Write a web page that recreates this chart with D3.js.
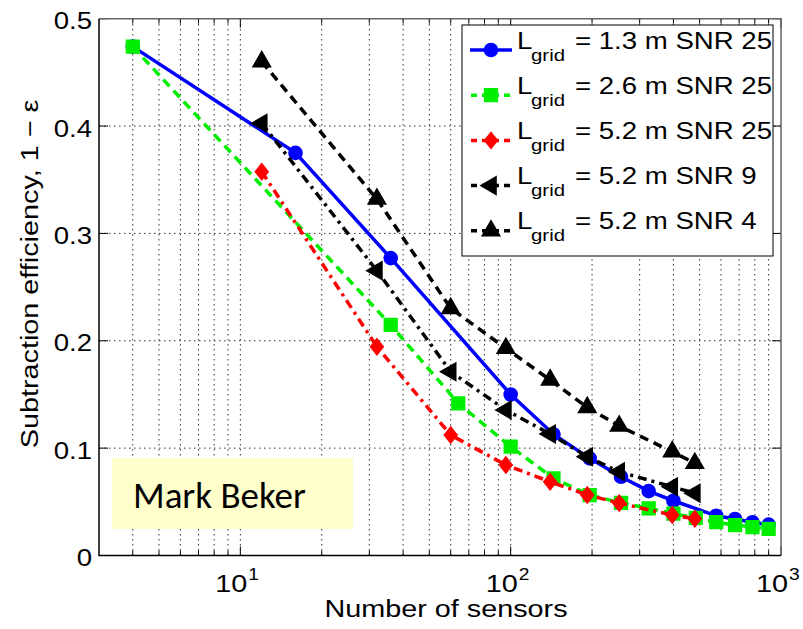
<!DOCTYPE html>
<html>
<head>
<meta charset="utf-8">
<script src="https://cdn.jsdelivr.net/npm/d3@7"></script>
<style>
  body { margin: 0; background: #fff; }
  svg { display: block; }
</style>
</head>
<body>
<script>
// data
var sensors13 = [4, 16, 36, 100, 144, 196, 256, 324, 400, 576, 676, 784, 900];
var eff13 = [0.474, 0.375, 0.277, 0.150, 0.113, 0.0905, 0.0733, 0.060, 0.051, 0.037, 0.034, 0.031, 0.0288];

var sensors26 = [4, 36, 64, 100, 144, 196, 256, 324, 400, 484, 576, 676, 784, 900];
var eff26 = [0.474, 0.2147, 0.1418, 0.1013, 0.0719, 0.0563, 0.049, 0.044, 0.039, 0.035, 0.031, 0.0284, 0.0265, 0.0247];

var sensors52 = [12, 32, 60, 96, 140, 192, 252, 396, 480];
var eff52snr25 = [0.3575, 0.1945, 0.1122, 0.0843, 0.0687, 0.0564, 0.0488, 0.0377, 0.0342];
var eff52snr9 = [0.4026, 0.2653, 0.1712, 0.1355, 0.1132, 0.092, 0.078, 0.064, 0.058];
var eff52snr4 = [0.46, 0.332, 0.2302, 0.193, 0.1635, 0.138, 0.1206, 0.0967, 0.0859];

var legendLabels = ["= 1.3 m SNR 25", "= 2.6 m SNR 25", "= 5.2 m SNR 25", "= 5.2 m SNR 9", "= 5.2 m SNR 4"];
var yTicks = [0, 0.1, 0.2, 0.3, 0.4, 0.5];
var xMajor = [10, 100, 1000];
var xMinor = [4, 5, 6, 7, 8, 9, 20, 30, 40, 50, 60, 70, 80, 90, 200, 300, 400, 500, 600, 700, 800, 900];

var width = 803, height = 629;
var stretch = 1.2;

var svg = d3.select("body").append("svg")
    .attr("width", width)
    .attr("height", height);

var x = d3.scaleLog().domain([3, 1000]).range([99, 781]);
var y = d3.scaleLinear().domain([0, 0.5]).range([555.5, 18.7]);

var x0 = x.range()[0], x1 = x.range()[1];
var y0 = y.range()[0], y1 = y.range()[1];

// grid
var grid = svg.append("g").attr("stroke", "#333").attr("stroke-width", 1)
    .attr("stroke-dasharray", "1.5,3.5");
grid.selectAll(".vg").data(xMinor.concat([10, 100])).enter().append("line")
    .attr("x1", d => x(d)).attr("x2", d => x(d))
    .attr("y1", y0).attr("y2", y1);
grid.selectAll(".hg").data(yTicks.slice(1, 5)).enter().append("line")
    .attr("x1", x0).attr("x2", x1)
    .attr("y1", d => y(d)).attr("y2", d => y(d));

// tick marks (inward, all four sides)
var ticks = svg.append("g").attr("stroke", "#000").attr("stroke-width", 1);
xMinor.forEach(function(v) {
  ticks.append("line").attr("x1", x(v)).attr("x2", x(v)).attr("y1", y0).attr("y2", y0 - 5);
  ticks.append("line").attr("x1", x(v)).attr("x2", x(v)).attr("y1", y1).attr("y2", y1 + 5);
});
xMajor.forEach(function(v) {
  ticks.append("line").attr("x1", x(v)).attr("x2", x(v)).attr("y1", y0).attr("y2", y0 - 9);
  ticks.append("line").attr("x1", x(v)).attr("x2", x(v)).attr("y1", y1).attr("y2", y1 + 9);
});
yTicks.forEach(function(v) {
  ticks.append("line").attr("x1", x0).attr("x2", x0 + 9).attr("y1", y(v)).attr("y2", y(v));
  ticks.append("line").attr("x1", x1).attr("x2", x1 - 9).attr("y1", y(v)).attr("y2", y(v));
});

// axes box
svg.append("path").attr("fill", "none").attr("stroke", "#666").attr("stroke-width", 1.5)
    .attr("d", "M" + x0 + "," + y1 + "H" + x1 + "V" + y0);
svg.append("path").attr("fill", "none").attr("stroke", "#000").attr("stroke-width", 1.5)
    .attr("d", "M" + x0 + "," + y1 + "V" + y0 + "H" + x1);

// tick labels
var font = "'Liberation Sans', Arial, Helvetica, sans-serif";
function stretched(g, tx, ty, extra) {
  return g.append("text")
      .attr("transform", "translate(" + tx + "," + ty + ")" + (extra || "") + " scale(" + stretch + ",1)")
      .attr("font-family", font)
      .attr("font-size", 23)
      .attr("fill", "#000");
}

yTicks.forEach(function(v) {
  stretched(svg, 92, y(v) + 10.5).attr("text-anchor", "end").text(v === 0 ? "0" : d3.format(".1f")(v));
});

xMajor.forEach(function(v) {
  stretched(svg, x(v) + 7, 592).attr("text-anchor", "end").attr("font-size", 24).text("10");
  stretched(svg, x(v) + 8, 580).attr("font-size", 16).text(Math.round(Math.log10(v)));
});

// axis labels
stretched(svg, 446, 617).attr("text-anchor", "middle").attr("font-size", 24).text("Number of sensors");
stretched(svg, 38, 274, " rotate(-90)").attr("text-anchor", "middle").attr("font-size", 24)
    .text("Subtraction efficiency, 1 \u2212 \u03b5");

// wide diamond marker like the original
var wideDiamond = {
  draw: function(context, size) {
    var h = Math.sqrt(size) * 0.62, w = h * 0.8;
    context.moveTo(0, -h);
    context.lineTo(w, 0);
    context.lineTo(0, h);
    context.lineTo(-w, 0);
    context.closePath();
  }
};

// series
var series = [
  {xs: sensors13, ys: eff13, color: "#0000ff", dash: null, symbol: d3.symbolCircle, size: 125, rot: 0},
  {xs: sensors26, ys: eff26, color: "#00ee00", dash: "9,6", symbol: d3.symbolSquare, size: 150, rot: 0},
  {xs: sensors52, ys: eff52snr25, color: "#ff0000", dash: "9,5,3,5", symbol: wideDiamond, size: 150, rot: 0},
  {xs: sensors52, ys: eff52snr9, color: "#000000", dash: "9,5,3,5", symbol: d3.symbolTriangle, size: 120, rot: -90},
  {xs: sensors52, ys: eff52snr4, color: "#000000", dash: "9,6", symbol: d3.symbolTriangle, size: 120, rot: 0}
];

var line = d3.line().x(d => x(d[0])).y(d => y(d[1]));

series.forEach(function(s) {
  var pts = s.xs.map((v, i) => [v, s.ys[i]]);
  svg.append("path")
      .attr("d", line(pts))
      .attr("fill", "none")
      .attr("stroke", s.color)
      .attr("stroke-width", 3.5)
      .attr("stroke-dasharray", s.dash);
  svg.selectAll(null).data(pts).enter().append("path")
      .attr("d", d3.symbol().type(s.symbol).size(s.size))
      .attr("transform", d => "translate(" + x(d[0]) + "," + y(d[1]) + ") rotate(" + s.rot + ")")
      .attr("fill", s.color)
      .attr("stroke", s.color)
      .attr("stroke-width", 2);
});

// legend
var legend = svg.append("g");
legend.append("rect")
    .attr("x", 462).attr("y", 25).attr("width", 311).attr("height", 231)
    .attr("fill", "#fff").attr("stroke", "#000").attr("stroke-width", 1);

series.forEach(function(s, i) {
  var by = 48.5 + i * 45.2;
  legend.append("line")
      .attr("x1", 470).attr("x2", 512).attr("y1", by + 1.5).attr("y2", by + 1.5)
      .attr("stroke", s.color).attr("stroke-width", 3.5)
      .attr("stroke-dasharray", s.dash ? "6,5" : null)
      .attr("stroke-dashoffset", s.dash ? -1 : null);
  legend.append("path")
      .attr("d", d3.symbol().type(s.symbol).size(s.size))
      .attr("transform", "translate(491," + (by + 1.5) + ") rotate(" + s.rot + ")")
      .attr("fill", s.color).attr("stroke", s.color).attr("stroke-width", 2);
  stretched(legend, 517, by).text("L");
  stretched(legend, 531, by + 12).attr("font-size", 17).text("grid");
  stretched(legend, 575, by).text(legendLabels[i]);
});

// name box
svg.append("rect")
    .attr("x", 112).attr("y", 458).attr("width", 241).attr("height", 71)
    .attr("fill", "#ffffcc");
svg.append("text")
    .attr("x", 133).attr("y", 508)
    .attr("font-family", "Carlito, 'Open Sans', sans-serif")
    .attr("font-size", 37)
    .attr("fill", "#000")
    .text("Mark Beker");
</script>
</body>
</html>
